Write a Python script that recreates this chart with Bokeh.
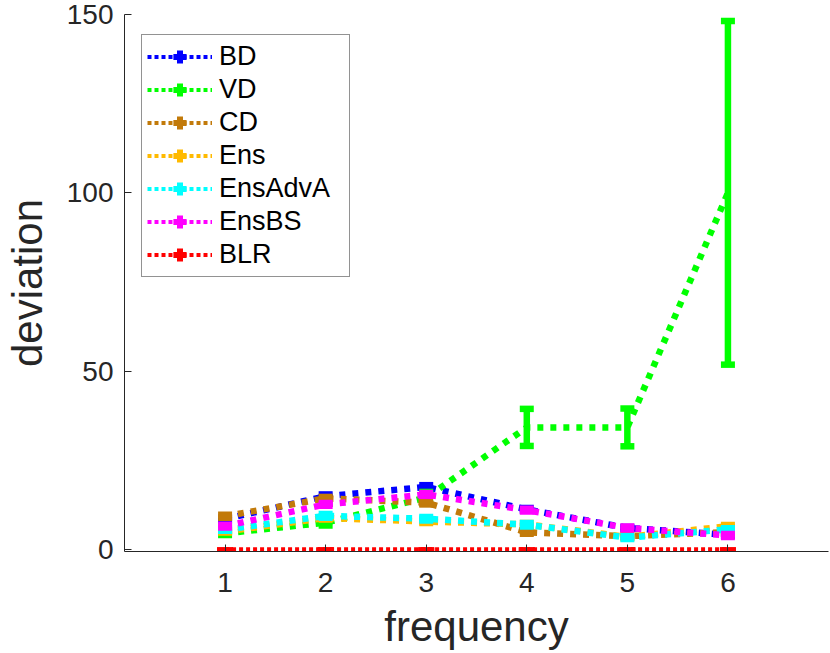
from bokeh.plotting import figure
from bokeh.models import Range1d, FixedTicker, Legend, LegendItem, ColumnDataSource
from bokeh.embed import file_html
from bokeh.resources import INLINE

# ---- data ----
frequency = [1, 2, 3, 4, 5, 6]
series_names = ["BD", "VD", "CD", "Ens", "EnsAdvA", "EnsBS", "BLR"]
BD = [8.5, 14.9, 17.5, 11.2, 6.0, 4.1]
BD_err = [0.4, 0.5, 0.5, 0.4, 0.3, 0.3]
VD = [4.5, 7.5, 14.5, 34.2, 34.2, 100.0]
VD_err = [0.5, 0.8, 1.6, 5.2, 5.3, 48.2]
CD = [9.3, 14.3, 13.1, 4.8, 3.7, 4.8]
CD_err = [0.4, 0.4, 0.5, 0.4, 0.3, 0.3]
Ens = [5.0, 8.8, 7.8, 7.0, 3.5, 6.5]
Ens_err = [0.3, 0.4, 0.4, 0.4, 0.3, 0.3]
EnsAdvA = [5.5, 9.4, 8.6, 6.9, 3.3, 5.6]
EnsAdvA_err = [0.3, 0.5, 0.5, 0.5, 0.4, 0.3]
EnsBS = [6.5, 12.6, 15.4, 11.0, 6.0, 3.9]
EnsBS_err = [0.4, 0.4, 0.4, 0.4, 0.4, 0.4]
BLR = [0.0, 0.0, 0.0, 0.0, 0.0, 0.0]
BLR_err = [0.0, 0.0, 0.0, 0.0, 0.0, 0.0]
x_ticks = [1, 2, 3, 4, 5, 6]
y_ticks = [0, 50, 100, 150]

values = [BD, VD, CD, Ens, EnsAdvA, EnsBS, BLR]
errors = [BD_err, VD_err, CD_err, Ens_err, EnsAdvA_err, EnsBS_err, BLR_err]
colors = ["#0000FF", "#00FF00", "#C27A0A", "#FFBA00", "#00FFFF", "#FF00FF", "#FF0000"]

FONT = "Liberation Sans"
AXC = "#262626"

p = figure(width=830, height=653, output_backend="svg", toolbar_location=None,
           x_range=Range1d(0, 7), y_range=Range1d(-0.6, 150),
           min_border_left=122, min_border_right=2, min_border_top=14, min_border_bottom=102)
p.outline_line_color = None
p.xgrid.visible = False
p.ygrid.visible = False
p.background_fill_color = "white"

for ax, ticks in ((p.xaxis[0], x_ticks), (p.yaxis[0], y_ticks)):
    ax.ticker = FixedTicker(ticks=ticks)
    ax.minor_tick_line_color = None
    ax.major_tick_in = 7
    ax.major_tick_out = 0
    ax.axis_line_color = AXC
    ax.major_tick_line_color = AXC
    ax.major_label_text_color = AXC
    ax.major_label_text_font = FONT
    ax.major_label_text_font_size = "28px"
    ax.axis_label_text_font = FONT
    ax.axis_label_text_font_style = "normal"
    ax.axis_label_text_color = AXC

p.xaxis.axis_label = "frequency"
p.yaxis.axis_label = "deviation"
p.xaxis.axis_label_text_font_size = "42px"
p.yaxis.axis_label_text_font_size = "42px"
p.xaxis.major_label_standoff = 21
p.xaxis.axis_label_standoff = 8
p.yaxis.major_label_standoff = 11
p.yaxis.axis_label_standoff = 13

nan = float("nan")
items = []
for name, vals, errs, col in zip(series_names, values, errors, colors):
    thin = name == "BLR"
    lw = 4 if thin else 6.5
    dash = "4 3" if thin else "6 7"
    capw = 16 if thin else 14
    lo = [v - e for v, e in zip(vals, errs)]
    hi = [v + e for v, e in zip(vals, errs)]
    src = ColumnDataSource(dict(x=frequency, y=vals, lo=lo, hi=hi))
    p.line("x", "y", source=src, line_color=col, line_width=lw, line_dash=dash)
    p.segment(x0="x", y0="lo", x1="x", y1="hi", source=src, line_color=col, line_width=lw)
    p.scatter("x", "lo", source=src, marker="dash", size=capw, line_color=col, line_width=lw)
    p.scatter("x", "hi", source=src, marker="dash", size=capw, line_color=col, line_width=lw)
    # legend-only helpers (not drawn in the plot): finer dotted sample + error-bar stroke
    leg_line = p.line(x=[nan, nan], y=[nan, nan], line_color=col, line_width=4, line_dash="4 3")
    leg_bar = p.scatter(x=[nan], y=[nan], marker="cross", size=14,
                        line_color=col, line_width=6)
    items.append(LegendItem(label=name, renderers=[leg_line, leg_bar]))

legend = Legend(items=items, location=(17, 274), margin=0, padding=5, spacing=0,
                glyph_width=65, glyph_height=33, label_height=33, label_standoff=7,
                label_width=125,
                label_text_font=FONT, label_text_font_size="27px", label_text_color="black",
                border_line_color=AXC, border_line_width=1, background_fill_color="white",
                background_fill_alpha=1.0)
p.add_layout(legend)

open("out.html", "w").write(file_html(p, INLINE))
